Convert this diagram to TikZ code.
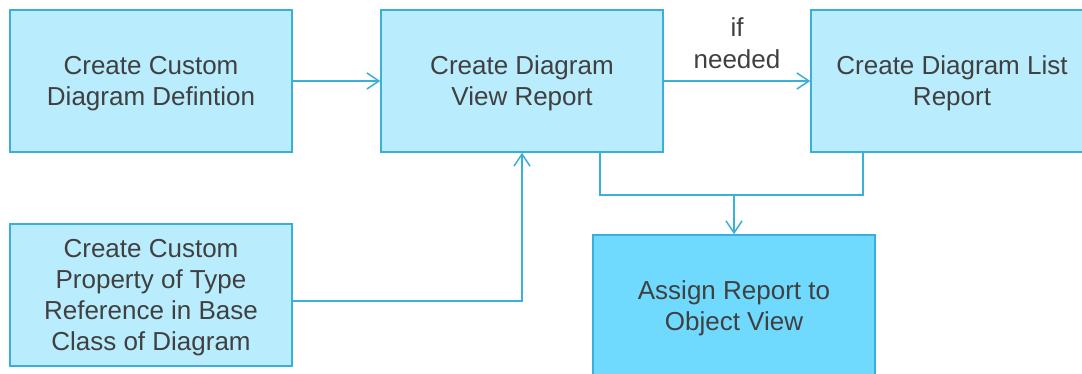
\documentclass[tikz,border=0pt]{standalone}
\usepackage{fontspec}
\setmainfont{Liberation Sans}
\usetikzlibrary{arrows.meta}

\definecolor{boxfill}{HTML}{B9ECFD}
\definecolor{boxline}{HTML}{3AAFD9}
\definecolor{mainfill}{HTML}{6FD9FE}
\definecolor{txtgray}{HTML}{404040}

\begin{document}
\begin{tikzpicture}[
    x=1pt, y=1pt,
    stepbox/.style={rectangle, draw=boxline, fill=boxfill, line width=1.5pt,
      minimum width=282pt, minimum height=142pt, inner sep=0pt,
      align=center, text=txtgray, text depth=0pt},
    every node/.style={font=\fontsize{26}{31}\selectfont},
    flow/.style={draw=boxline, line width=1.5pt,
      -{Straight Barb[length=12pt,width=16pt,line width=1.5pt]}},
    link/.style={draw=boxline, line width=1.5pt}
  ]
  \useasboundingbox (0,0) rectangle (1082,-374);
  % Boxes
  \node[stepbox] (def)    at (151,-81)  {Create Custom\\Diagram Defintion};
  \node[stepbox] (view)   at (522,-81)  {Create Diagram\\View Report};
  \node[stepbox] (list)   at (952,-81)  {Create Diagram List\\Report};
  \node[stepbox] (prop)   at (151,-295) {Create Custom\\Property of Type\\Reference in Base\\Class of Diagram};
  \node[stepbox, fill=mainfill] (assign) at (734,-306) {Assign Report to\\Object View};
  \coordinate (join) at (734,-195);

  % Connectors
  \draw[flow] (def) -- (view);
  \draw[flow] (view) -- node[above, text=txtgray, align=center, text depth=0pt,
    inner ysep=12pt, font=\fontsize{26}{32}\selectfont] {if\\needed} (list);
  \draw[flow] ([yshift=-6pt]prop.east) -| (view.south);
  \draw[link] ([xshift=78pt]view.south) |- (join);
  \draw[link] ([xshift=-89pt]list.south) |- (join);
  \draw[flow] (join) -- (assign.north);
\end{tikzpicture}
\end{document}
